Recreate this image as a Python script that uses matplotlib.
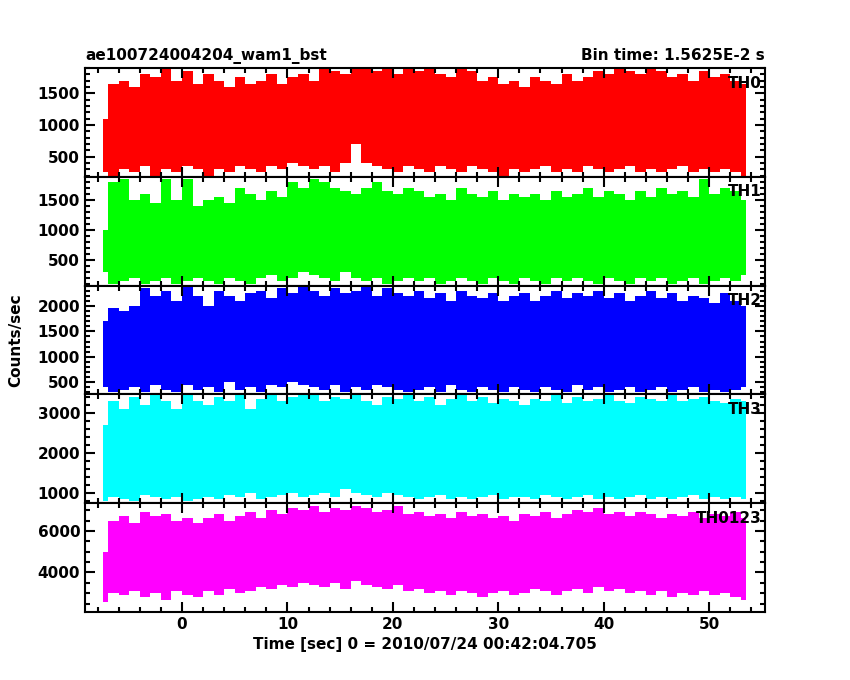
import numpy as np
import matplotlib
matplotlib.use("Agg")
import matplotlib.pyplot as plt
from matplotlib.ticker import MultipleLocator

labels = ["TH0", "TH1", "TH2", "TH3", "TH0123"]
colors = ["#ff0000", "#00ff00", "#0000ff", "#00ffff", "#ff00ff"]
ylims = [(180, 1900), (75, 1880), (260, 2400), (750, 3475), (2100, 7333)]
majors = [500, 500, 500, 1000, 2000]
minors = [100, 100, 100, 200, 500]

th0_hi = [1100,1650,1700,1600,1800,1750,1900,1700,1850,1650,
          1800,1700,1600,1750,1650,1700,1800,1650,1750,1800,
          1700,1900,1850,1800,1900,1900,1850,1900,1800,1900,
          1850,1900,1800,1750,1900,1850,1700,1750,1650,1700,
          1600,1750,1700,1650,1800,1700,1750,1850,1800,1900,
          1850,1800,1900,1850,1750,1800,1700,1850,1750,1800,
          1700,1650]
th0_lo = [250,200,300,250,350,200,300,250,350,300,
          200,300,250,350,300,250,350,300,400,350,
          300,350,250,400,700,400,350,300,250,350,
          300,250,350,300,250,350,300,250,200,300,
          250,300,350,250,300,250,350,300,250,300,
          350,250,300,250,300,350,250,300,250,300,
          250,200]
th1_hi = [1000,1800,1850,1500,1600,1450,1850,1500,1850,1400,
          1500,1550,1450,1700,1600,1500,1650,1550,1800,1700,
          1850,1800,1700,1650,1600,1700,1800,1650,1600,1700,
          1650,1550,1600,1500,1700,1600,1550,1650,1500,1600,
          1550,1600,1500,1650,1550,1600,1700,1550,1650,1600,
          1500,1650,1550,1700,1600,1650,1550,1850,1600,1700,
          1650,1500]
th1_lo = [300,100,150,200,100,150,200,100,150,200,
          150,100,200,150,100,200,250,150,200,300,
          250,200,150,300,200,150,200,100,150,200,
          150,200,100,150,200,150,100,200,150,100,
          200,150,100,200,150,200,150,100,200,150,
          100,200,150,200,100,150,200,100,150,200,
          150,250]
th2_hi = [1700,1950,1900,2000,2350,2200,2300,2100,2400,2200,
          2000,2300,2200,2100,2250,2300,2150,2350,2250,2400,
          2300,2200,2350,2250,2300,2400,2200,2350,2250,2200,
          2300,2150,2250,2100,2300,2200,2150,2250,2100,2200,
          2250,2100,2200,2300,2150,2250,2200,2300,2150,2250,
          2100,2200,2300,2150,2250,2100,2200,2150,2050,2250,
          2100,2000]
th2_lo = [400,300,350,400,300,450,350,300,450,350,
          400,300,500,350,400,300,450,400,500,450,
          400,350,450,300,400,350,450,400,350,300,
          350,400,300,450,350,300,400,350,300,400,
          350,300,400,350,300,450,350,400,300,350,
          400,300,350,400,300,350,400,300,350,300,
          350,400]
th3_hi = [2700,3300,3100,3400,3200,3450,3300,3100,3450,3300,
          3200,3400,3300,3450,3100,3350,3450,3300,3400,3450,
          3450,3300,3400,3350,3450,3300,3200,3400,3350,3450,
          3300,3400,3200,3350,3450,3300,3400,3250,3350,3300,
          3200,3350,3300,3450,3250,3400,3300,3350,3450,3300,
          3250,3400,3350,3300,3450,3300,3350,3400,3300,3250,
          3350,3300]
th3_lo = [800,900,850,800,950,900,850,900,800,850,
          900,850,950,900,1000,850,900,950,1000,900,
          950,1000,900,1100,1000,950,900,1000,950,900,
          850,900,950,850,900,850,900,950,850,900,
          900,850,950,900,850,900,950,850,900,850,
          900,950,850,900,850,900,950,850,900,850,
          900,850]
th0123_hi = [5000,6500,6700,6400,6900,6700,6800,6500,6600,6400,
             6600,6800,6500,6700,6900,6600,7000,6800,7100,7000,
             7200,6900,7100,7000,7200,7100,6900,7000,7200,6800,
             6900,6700,6800,6600,6900,6700,6800,6600,6700,6500,
             6800,6700,6900,6600,6800,7000,6900,7100,6800,6900,
             6700,6900,6800,6600,6800,6700,6900,6600,6800,6700,
             6900,6600]
th0123_lo = [2600,3000,2900,3100,2800,3000,2700,3100,2900,2800,
             3100,2900,3200,3000,3100,3300,3200,3400,3300,3500,
             3400,3300,3500,3200,3600,3400,3300,3200,3400,3100,
             3200,3000,3100,2900,3100,3000,2800,3000,3100,2900,
             3000,3200,3100,2900,3100,3200,3000,3300,3100,3200,
             3000,3100,2900,3100,2800,3000,2900,3100,2900,3000,
             2800,2700]

his = [th0_hi, th1_hi, th2_hi, th3_hi, th0123_hi]
los = [th0_lo, th1_lo, th2_lo, th3_lo, th0123_lo]
t_start = -7.5

plt.rcParams['font.family'] = 'DejaVu Sans'
plt.rcParams['font.weight'] = 'bold'
fig = plt.figure(figsize=(8.5, 6.8), dpi=100)
left, right, top, bottom = 0.1, 0.9, 0.9, 0.1
h = (top - bottom) / 5
axes = []
for i in range(5):
    ax = fig.add_axes([left, top - (i + 1) * h, right - left, h])
    hi = np.array(his[i]); lo = np.array(los[i])
    t = t_start + np.arange(len(hi))
    ax.fill_between(t, lo, hi, step='mid', color=colors[i], lw=0)
    ax.set_xlim(-9.2, 55.3)
    ax.set_ylim(*ylims[i])
    ax.yaxis.set_major_locator(MultipleLocator(majors[i]))
    ax.yaxis.set_minor_locator(MultipleLocator(minors[i]))
    ax.xaxis.set_major_locator(MultipleLocator(10))
    ax.xaxis.set_minor_locator(MultipleLocator(2))
    ax.tick_params(which='both', direction='in', top=True, right=True, width=1.5)
    ax.tick_params(which='major', length=7, labelsize=11)
    ax.tick_params(which='minor', length=3.5)
    for s in ax.spines.values():
        s.set_linewidth(1.5)
    ax.text(0.995, 0.93, labels[i], transform=ax.transAxes, ha='right', va='top',
            fontsize=11, fontweight='bold')
    if i < 4:
        ax.tick_params(labelbottom=False)
    axes.append(ax)

axes[0].set_title("ae100724004204_wam1_bst", loc='left', fontsize=11, fontweight='bold')
axes[0].set_title("Bin time: 1.5625E-2 s", loc='right', fontsize=11, fontweight='bold')
axes[4].set_xlabel("Time [sec] 0 = 2010/07/24 00:42:04.705", fontsize=11, fontweight='bold')
fig.text(0.018, 0.5, "Counts/sec", rotation=90, va='center', ha='center', fontsize=11, fontweight='bold')
fig.savefig("out.png", dpi=100)
